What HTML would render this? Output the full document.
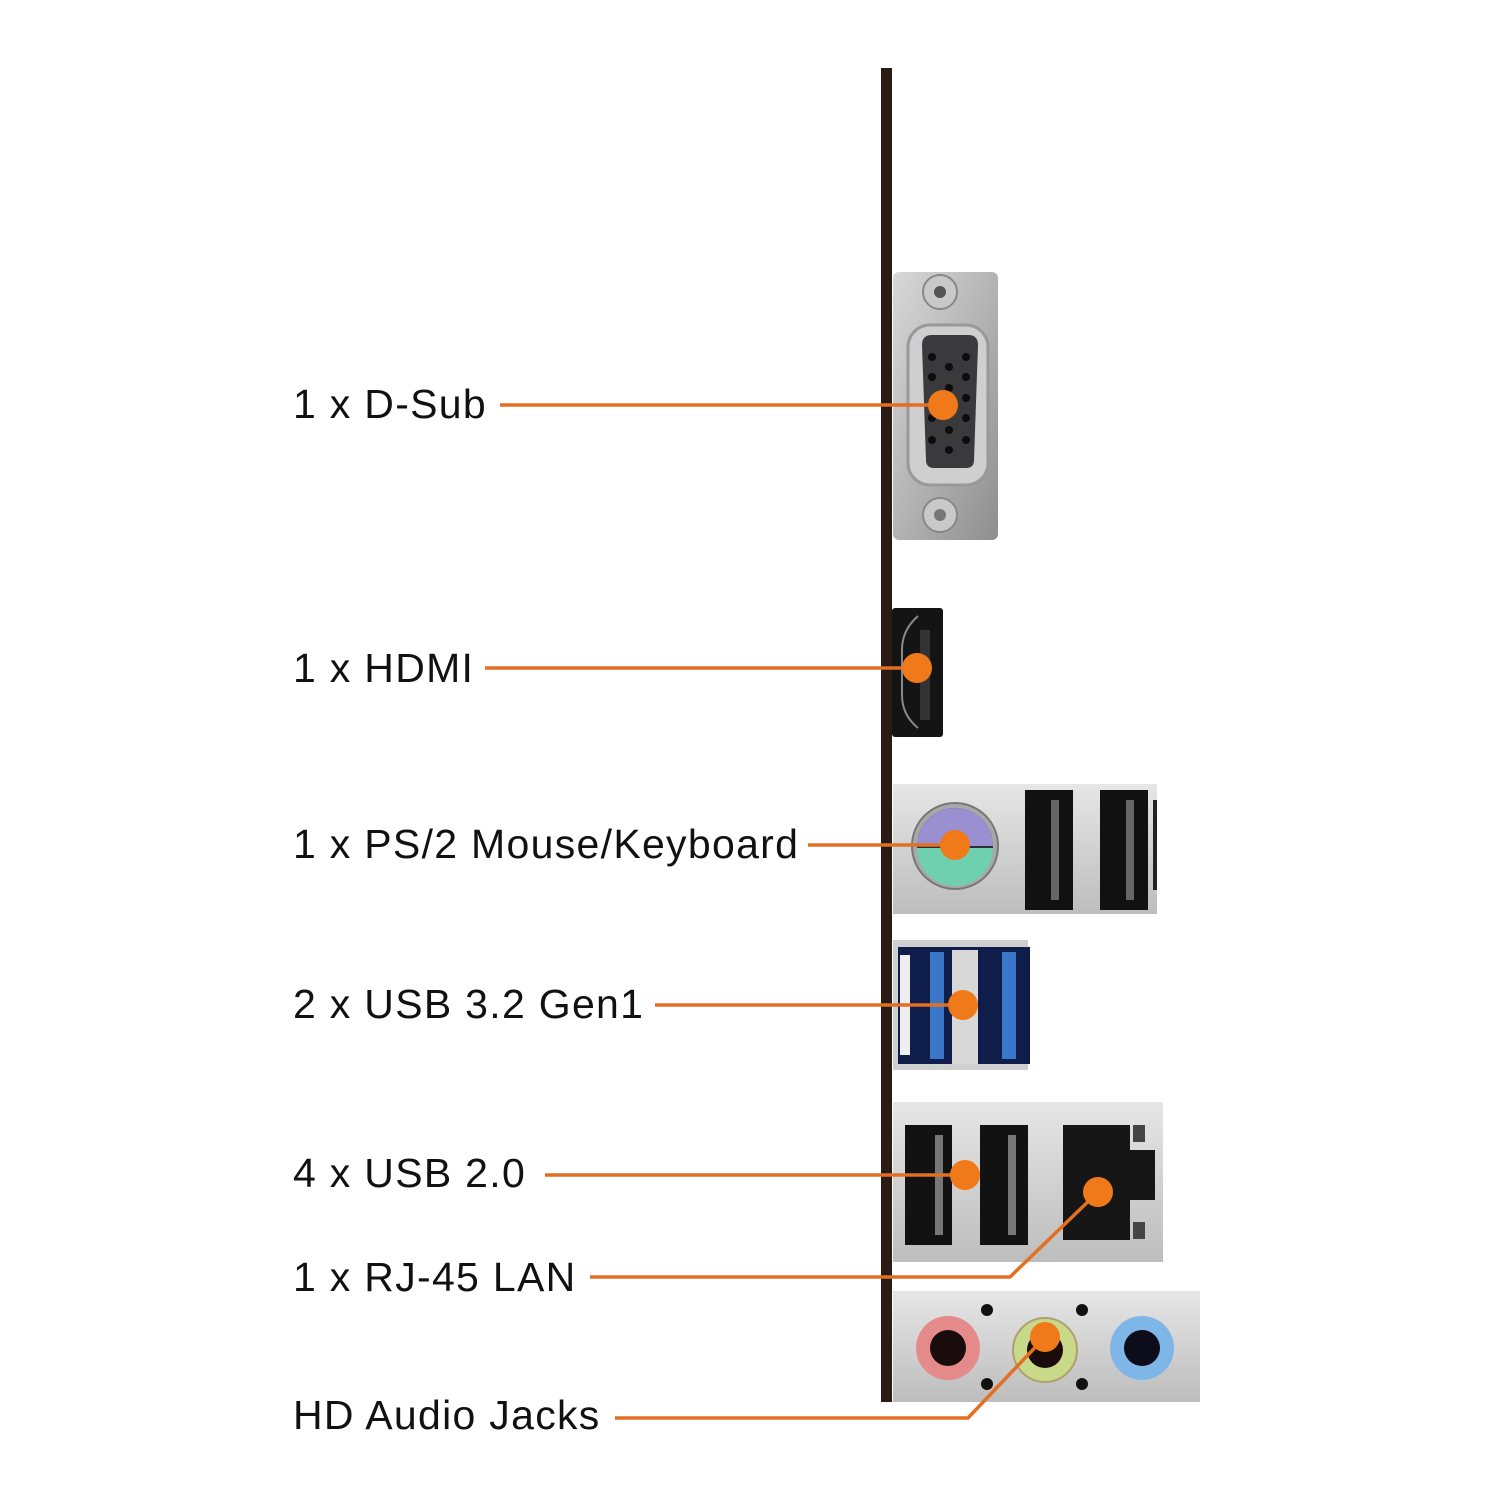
<!DOCTYPE html>
<html><head><meta charset="utf-8"><style>
html,body{margin:0;padding:0;background:#fff;}
svg{display:block}
text{font-family:"Liberation Sans",sans-serif;font-size:41px;fill:#111;letter-spacing:1.3px}
</style></head><body>
<svg width="1500" height="1500" viewBox="0 0 1500 1500" xmlns="http://www.w3.org/2000/svg">
<defs>
<linearGradient id="metal" x1="0" y1="0" x2="1" y2="1">
<stop offset="0" stop-color="#d8d8d8"/><stop offset="0.5" stop-color="#b4b4b4"/><stop offset="1" stop-color="#8e8e8e"/>
</linearGradient>
<linearGradient id="silver" x1="0" y1="0" x2="0" y2="1">
<stop offset="0" stop-color="#e6e6e6"/><stop offset="1" stop-color="#bdbdbd"/>
</linearGradient>
</defs>
<rect x="881" y="68" width="11" height="1334" fill="#2b1b15"/>

<rect x="893" y="272" width="105" height="268" rx="6" fill="url(#metal)"/>
<circle cx="940" cy="292" r="17" fill="#c9c9c9" stroke="#888" stroke-width="2"/>
<circle cx="940" cy="292" r="6" fill="#555"/>
<circle cx="940" cy="515" r="17" fill="#c9c9c9" stroke="#888" stroke-width="2"/>
<circle cx="940" cy="515" r="6" fill="#777"/>
<rect x="908" y="325" width="80" height="160" rx="22" fill="#cfcfcf" stroke="#999" stroke-width="3"/>
<path d="M922 345 Q922 335 932 335 L968 335 Q978 335 978 345 L974 460 Q974 468 966 468 L934 468 Q926 468 926 460 Z" fill="#3a3a3c"/>
<g fill="#0d0d0d">
<circle cx="932" cy="357" r="4"/><circle cx="949" cy="367" r="4"/><circle cx="966" cy="357" r="4"/>
<circle cx="932" cy="377" r="4"/><circle cx="966" cy="377" r="4"/><circle cx="949" cy="388" r="4"/>
<circle cx="966" cy="398" r="4"/><circle cx="932" cy="418" r="4"/><circle cx="966" cy="418" r="4"/>
<circle cx="949" cy="430" r="4"/><circle cx="932" cy="440" r="4"/><circle cx="966" cy="440" r="4"/><circle cx="949" cy="450" r="4"/>
</g>

<rect x="892" y="608" width="51" height="129" rx="3" fill="#141414"/>
<path d="M918 616 Q902 630 902 650 L902 695 Q902 715 918 728" fill="none" stroke="#888" stroke-width="2"/>
<rect x="920" y="630" width="10" height="90" fill="#333"/>

<rect x="893" y="784" width="264" height="130" fill="url(#silver)"/>
<circle cx="955" cy="846" r="43" fill="#a8a8a8" stroke="#777" stroke-width="2"/>
<circle cx="955" cy="846" r="38" fill="#2f2f3a"/>
<path d="M917 846 A38 38 0 0 1 993 846 Z" fill="#9a8fd0"/>
<path d="M917 848 A38 38 0 0 0 993 848 Z" fill="#6fd0b0"/>
<rect x="1025" y="790" width="48" height="120" fill="#111"/>
<rect x="1051" y="800" width="8" height="100" fill="#666"/>
<rect x="1100" y="790" width="48" height="120" fill="#111"/>
<rect x="1126" y="800" width="8" height="100" fill="#666"/>
<rect x="1153" y="800" width="4" height="90" fill="#222"/>

<rect x="893" y="940" width="135" height="130" fill="#cfcfcf"/>
<rect x="898" y="947" width="132" height="117" fill="#0f1d4a"/>
<rect x="930" y="952" width="14" height="107" fill="#3a77c8"/>
<rect x="952" y="950" width="26" height="114" fill="#d8d8d8"/>
<rect x="1002" y="952" width="14" height="107" fill="#3a77c8"/>
<rect x="900" y="955" width="10" height="100" fill="#eee"/>

<rect x="893" y="1102" width="270" height="160" fill="url(#silver)"/>
<rect x="905" y="1125" width="47" height="120" fill="#121212"/>
<rect x="935" y="1135" width="8" height="100" fill="#777"/>
<rect x="980" y="1125" width="48" height="120" fill="#121212"/>
<rect x="1008" y="1135" width="8" height="100" fill="#777"/>
<path d="M1063 1125 L1130 1125 L1130 1150 L1155 1150 L1155 1200 L1130 1200 L1130 1240 L1063 1240 Z" fill="#161616"/>
<rect x="1133" y="1125" width="12" height="17" fill="#444"/>
<rect x="1133" y="1222" width="12" height="17" fill="#444"/>

<rect x="893" y="1291" width="307" height="111" fill="url(#silver)"/>
<circle cx="948" cy="1348" r="32" fill="#e58a8a"/><circle cx="948" cy="1348" r="18" fill="#1a0c0c"/>
<circle cx="1045" cy="1350" r="32" fill="#c9d98a" stroke="#b0a070" stroke-width="2"/><circle cx="1045" cy="1350" r="18" fill="#1a0c0c"/>
<circle cx="1142" cy="1348" r="32" fill="#7fb6e8"/><circle cx="1142" cy="1348" r="18" fill="#0c0c1a"/>
<g fill="#111"><circle cx="987" cy="1310" r="6"/><circle cx="1082" cy="1310" r="6"/><circle cx="987" cy="1384" r="6"/><circle cx="1082" cy="1384" r="6"/></g>

<g stroke="#e36f22" stroke-width="3.5" fill="none">
<line x1="500" y1="405" x2="943" y2="405"/>
<line x1="485" y1="668" x2="917" y2="668"/>
<line x1="808" y1="845" x2="955" y2="845"/>
<line x1="655" y1="1005" x2="963" y2="1005"/>
<line x1="545" y1="1175" x2="965" y2="1175"/>
<polyline points="590,1277 1010,1277 1098,1192"/>
<polyline points="615,1418 968,1418 1045,1337"/>
</g>
<g fill="#f07a1a">
<circle cx="943" cy="405" r="15"/>
<circle cx="917" cy="668" r="15"/>
<circle cx="955" cy="845" r="15"/>
<circle cx="963" cy="1005" r="15"/>
<circle cx="965" cy="1175" r="15"/>
<circle cx="1098" cy="1192" r="15"/>
<circle cx="1045" cy="1337" r="15"/>
</g>

<text x="293" y="418">1 x D-Sub</text>
<text x="293" y="682">1 x HDMI</text>
<text x="293" y="858">1 x PS/2 Mouse/Keyboard</text>
<text x="293" y="1018">2 x USB 3.2 Gen1</text>
<text x="293" y="1187">4 x USB 2.0</text>
<text x="293" y="1291">1 x RJ-45 LAN</text>
<text x="293" y="1429">HD Audio Jacks</text>
</svg>
</body></html>
